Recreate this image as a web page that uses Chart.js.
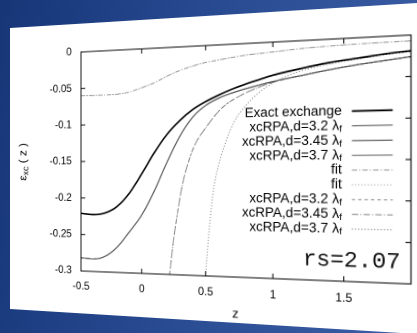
<!DOCTYPE html>
<html>
<head>
<meta charset="utf-8">
<script src="https://cdn.jsdelivr.net/npm/chart.js@4.4.0/dist/chart.umd.min.js"></script>
<style>
  html, body { margin: 0; padding: 0; }
  body {
    width: 417px; height: 333px; overflow: hidden; position: relative;
    background: linear-gradient(100deg, #163678 0%, #2a4c93 50%, #3b5ea6 100%);
  }
  #card {
    position: absolute; left: 0; top: 0; width: 450px; height: 340px; background: #fff;
    clip-path: polygon(10px 28px, 450px 1px, 450px 336px, 10px 309px);
  }
  #stage { position: absolute; left: 0; top: 0; width: 450px; height: 320px; transform-origin: 0 0; }
</style>
</head>
<body>
<div id="card"></div>
<div id="stage"><canvas id="chart" width="450" height="320"></canvas></div>
<script>
// values
const xTicks = [-0.5, 0, 0.5, 1, 1.5]
const yTicks = [0, -0.05, -0.1, -0.15, -0.2, -0.25, -0.3]

const zGrid = [-0.5, -0.4, -0.3, -0.2, -0.1, 0, 0.1, 0.2, 0.3, 0.4, 0.5, 0.6, 0.7, 0.8, 0.9, 1, 1.2, 1.4, 1.6, 1.8, 1.95]
const exactExchange = [-0.221, -0.2225, -0.22, -0.211, -0.193, -0.167, -0.139, -0.115, -0.097, -0.083, -0.073, -0.065, -0.058, -0.052, -0.047, -0.042, -0.035, -0.029, -0.025, -0.021, -0.019]
const xcRpa = [-0.282, -0.283, -0.279, -0.266, -0.245, -0.222, -0.19, -0.152, -0.118, -0.093, -0.078, -0.069, -0.063, -0.058, -0.054, -0.05, -0.044, -0.038, -0.033, -0.029, -0.026]

const zFit = [-0.5, -0.3, -0.2, -0.1, 0, 0.1, 0.2, 0.3, 0.4, 0.5, 0.6, 0.8, 1, 1.2, 1.5, 1.95]
const fitUpper = [-0.06, -0.06, -0.0595, -0.057, -0.052, -0.046, -0.038, -0.031, -0.026, -0.022, -0.0195, -0.015, -0.0125, -0.01, -0.008, -0.007]

const zSteepA = [0.205, 0.222, 0.25, 0.28, 0.317, 0.36, 0.41, 0.51, 0.63, 0.78, 0.91, 1, 1.2, 1.4, 1.6, 1.8, 1.95]
const steepA = [-0.33, -0.3, -0.258, -0.222, -0.185, -0.156, -0.132, -0.105, -0.081, -0.065, -0.056, -0.051, -0.044, -0.038, -0.033, -0.029, -0.026]

const zSteepB = [0.49, 0.5, 0.53, 0.562, 0.6, 0.63, 0.71, 0.81, 0.91, 1, 1.2, 1.4, 1.6, 1.8, 1.95]
const steepB = [-0.33, -0.3, -0.235, -0.186, -0.155, -0.137, -0.102, -0.078, -0.062, -0.052, -0.038, -0.031, -0.026, -0.022, -0.02]

const labels = ['Exact exchange', 'xcRPA,d=3.2 λf', 'xcRPA,d=3.45 λf', 'xcRPA,d=3.7 λf', 'fit', 'fit', 'xcRPA,d=3.2 λf', 'xcRPA,d=3.45 λf', 'xcRPA,d=3.7 λf']

function pts(zs, vs) {
  return zs.map((z, i) => ({ x: z, y: vs[i] }))
}

function line(label, zs, vs, color, width, dash) {
  return {
    label: label,
    data: pts(zs, vs),
    borderColor: color,
    borderWidth: width,
    borderDash: dash,
    pointRadius: 0,
    cubicInterpolationMode: 'monotone',
    fill: false
  }
}

const datasets = [
  line(labels[0], zGrid, exactExchange, '#000', 1.7, []),
  line(labels[1], zGrid, xcRpa, '#555', 1, []),
  line(labels[2], zGrid, xcRpa, '#444', 1, []),
  line(labels[3], zGrid, xcRpa, '#666', 1, []),
  line(labels[4], zFit, fitUpper, '#999', 1, [5, 2, 1, 2]),
  line(labels[5], zFit, fitUpper, '#aaa', 1, [1, 2]),
  line(labels[6], zSteepA, steepA, '#888', 1, [3, 3]),
  line(labels[7], zSteepA, steepA, '#888', 1, [6, 2, 1, 2]),
  line(labels[8], zSteepB, steepB, '#777', 1, [1, 2])
]

Chart.defaults.font.family = '"Liberation Sans", Arial, sans-serif'
Chart.defaults.color = '#000'

// gnuplot style box, inward ticks, legend and labels
const framePlugin = {
  id: 'frame',
  afterDraw(chart) {
    const ctx = chart.ctx
    const a = chart.chartArea
    const x = chart.scales.x
    const y = chart.scales.y
    const w = a.right - a.left
    const h = a.bottom - a.top
    ctx.save()
    ctx.strokeStyle = '#000'
    ctx.lineWidth = 1
    ctx.setLineDash([])
    ctx.strokeRect(a.left, a.top, w, h)
    ctx.beginPath()
    xTicks.forEach((v) => {
      const px = x.getPixelForValue(v)
      ctx.moveTo(px, a.bottom); ctx.lineTo(px, a.bottom - 5)
      ctx.moveTo(px, a.top); ctx.lineTo(px, a.top + 5)
    })
    yTicks.forEach((v) => {
      const py = y.getPixelForValue(v)
      ctx.moveTo(a.left, py); ctx.lineTo(a.left + 5, py)
      ctx.moveTo(a.right, py); ctx.lineTo(a.right - 5, py)
    })
    ctx.stroke()

    // legend
    const textRight = a.left + 0.811 * w
    const s0 = a.left + 0.839 * w
    const s1 = a.left + 0.951 * w
    ctx.fillStyle = '#000'
    ctx.textBaseline = 'middle'
    chart.data.datasets.forEach((ds, i) => {
      const ly = a.top + (0.30 + 0.0605 * i) * h
      let main = ds.label
      let sub = ''
      if (main.endsWith('λf')) { main = main.slice(0, -1); sub = 'f' }
      ctx.font = '9.5px "Liberation Sans", Arial, sans-serif'
      const subW = sub ? ctx.measureText(sub).width : 0
      if (sub) { ctx.textAlign = 'right'; ctx.fillText(sub, textRight, ly + 3) }
      ctx.font = '13.5px "Liberation Sans", Arial, sans-serif'
      ctx.textAlign = 'right'
      ctx.fillText(main, textRight - subW, ly)
      ctx.beginPath()
      ctx.strokeStyle = ds.borderColor
      ctx.lineWidth = ds.borderWidth
      ctx.setLineDash(ds.borderDash)
      ctx.moveTo(s0, ly); ctx.lineTo(s1, ly)
      ctx.stroke()
    })
    ctx.setLineDash([])

    // rs label
    ctx.font = '22px "Liberation Mono", monospace'
    ctx.fillStyle = '#111'
    ctx.textAlign = 'right'
    ctx.textBaseline = 'alphabetic'
    ctx.fillText('rs=2.07', a.left + 0.972 * w, a.top + 0.94 * h)

    // axis titles
    ctx.fillStyle = '#000'
    ctx.font = '13px "Liberation Sans", Arial, sans-serif'
    ctx.textAlign = 'center'
    ctx.textBaseline = 'middle'
    ctx.fillText('z', a.left + w / 2, a.bottom + 38)

    ctx.translate(a.left - 69, a.top + h / 2)
    ctx.rotate(-Math.PI / 2)
    const big = '13px "Liberation Sans", Arial, sans-serif'
    const small = '10px "Liberation Sans", Arial, sans-serif'
    ctx.font = big
    const w1 = ctx.measureText('ε').width
    const w3 = ctx.measureText(' ( z )').width
    ctx.font = small
    const w2 = ctx.measureText('xc').width
    let cx = -(w1 + w2 + w3) / 2
    ctx.textAlign = 'left'
    ctx.font = big
    ctx.fillText('ε', cx, 0)
    cx += w1
    ctx.font = small
    ctx.fillText('xc', cx, 3)
    cx += w2
    ctx.font = big
    ctx.fillText(' ( z )', cx, 0)
    ctx.restore()
  }
}

const config = {
  type: 'line',
  data: { datasets: datasets },
  plugins: [framePlugin],
  options: {
    responsive: false,
    animation: false,
    devicePixelRatio: 2,
    layout: { padding: { left: 10, right: 20, top: 24, bottom: 10 } },
    plugins: { legend: { display: false }, tooltip: { enabled: false } },
    scales: {
      x: {
        type: 'linear',
        min: -0.5,
        max: 1.95,
        afterBuildTicks: (s) => { s.ticks = xTicks.map((v) => ({ value: v })) },
        afterFit: (s) => { s.height = 48 },
        grid: { display: false, drawTicks: false },
        border: { display: false },
        ticks: { padding: 10, font: { size: 11.5 }, autoSkip: false, maxRotation: 0, callback: (v) => String(v) }
      },
      y: {
        type: 'linear',
        min: -0.3,
        max: 0,
        afterBuildTicks: (s) => { s.ticks = yTicks.map((v) => ({ value: v })) },
        afterFit: (s) => { s.width = 80 },
        grid: { display: false, drawTicks: false },
        border: { display: false },
        ticks: { padding: 11, font: { size: 11.5 }, autoSkip: false, callback: (v) => String(v) }
      }
    }
  }
}

const myChart = new Chart(document.getElementById('chart'), config)

// solve the 4 point perspective map from the flat chart to the tilted page
function homography(src, dst) {
  const A = []
  const b = []
  for (let i = 0; i < 4; i++) {
    const [x, y] = src[i]
    const [X, Y] = dst[i]
    A.push([x, y, 1, 0, 0, 0, -x * X, -y * X]); b.push(X)
    A.push([0, 0, 0, x, y, 1, -x * Y, -y * Y]); b.push(Y)
  }
  for (let c = 0; c < 8; c++) {
    let p = c
    for (let r = c + 1; r < 8; r++) if (Math.abs(A[r][c]) > Math.abs(A[p][c])) p = r
    const tA = A[c]; A[c] = A[p]; A[p] = tA
    const tb = b[c]; b[c] = b[p]; b[p] = tb
    for (let r = 0; r < 8; r++) {
      if (r === c) continue
      const f = A[r][c] / A[c][c]
      for (let k = c; k < 8; k++) A[r][k] -= f * A[c][k]
      b[r] -= f * b[c]
    }
  }
  return b.map((v, i) => v / A[i][i])
}

const ca = myChart.chartArea
const hm = homography(
  [[ca.left, ca.top], [ca.right, ca.top], [ca.left, ca.bottom], [ca.right, ca.bottom]],
  [[81, 52], [411, 35], [81, 271], [411, 284]]
)
document.getElementById('stage').style.transform =
  'matrix3d(' + [hm[0], hm[3], 0, hm[6], hm[1], hm[4], 0, hm[7], 0, 0, 1, 0, hm[2], hm[5], 0, 1].join(',') + ')'
</script>
</body>
</html>
